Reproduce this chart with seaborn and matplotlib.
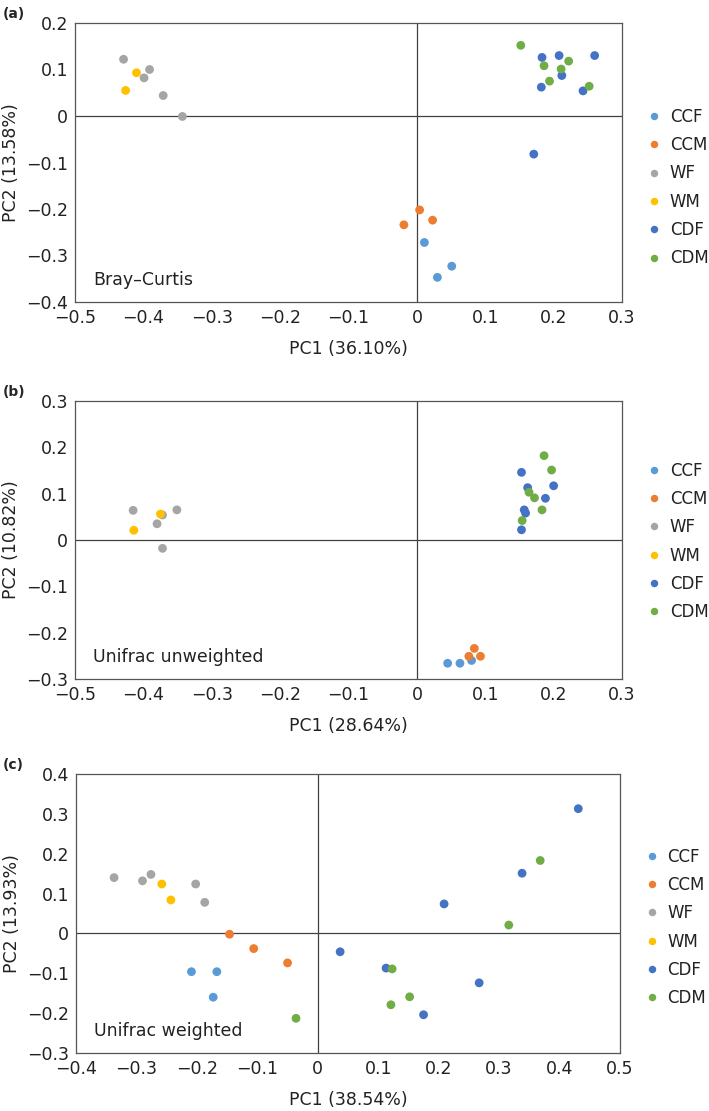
import matplotlib.pyplot as plt
import pandas as pd
import seaborn as sns
from matplotlib.ticker import FuncFormatter, MultipleLocator

# ---------------------------------------------------------------------------
# Data
# ---------------------------------------------------------------------------
GROUPS = ["CCF", "CCM", "WF", "WM", "CDF", "CDM"]
COLORS = ["#5B9BD5", "#ED7D31", "#A5A5A5", "#FFC000", "#4472C4", "#70AD47"]
GROUP_SIZES = [3, 3, 5, 2, 7, 6]

# (a) Bray-Curtis
bc_pc1 = [0.011, 0.051, 0.030,
          0.004, 0.023, -0.019,
          -0.429, -0.391, -0.399, -0.371, -0.343,
          -0.410, -0.426,
          0.183, 0.208, 0.260, 0.212, 0.182, 0.243, 0.171,
          0.152, 0.186, 0.222, 0.211, 0.194, 0.252]
bc_pc2 = [-0.272, -0.323, -0.347,
          -0.202, -0.224, -0.234,
          0.122, 0.100, 0.082, 0.044, -0.001,
          0.093, 0.055,
          0.126, 0.130, 0.130, 0.087, 0.062, 0.054, -0.082,
          0.152, 0.108, 0.118, 0.101, 0.075, 0.064]

# (b) Unifrac unweighted
uu_pc1 = [0.045, 0.063, 0.080,
          0.084, 0.076, 0.093,
          -0.415, -0.372, -0.351, -0.380, -0.372,
          -0.375, -0.414,
          0.153, 0.162, 0.200, 0.188, 0.157, 0.159, 0.153,
          0.186, 0.197, 0.164, 0.172, 0.183, 0.154]
uu_pc2 = [-0.266, -0.266, -0.260,
          -0.234, -0.251, -0.251,
          0.064, 0.054, 0.065, 0.035, -0.018,
          0.056, 0.021,
          0.146, 0.113, 0.117, 0.090, 0.065, 0.058, 0.022,
          0.182, 0.151, 0.103, 0.091, 0.065, 0.042]

# (c) Unifrac weighted
uw_pc1 = [-0.209, -0.167, -0.173,
          -0.146, -0.106, -0.050,
          -0.337, -0.290, -0.276, -0.202, -0.187,
          -0.258, -0.243,
          0.431, 0.338, 0.209, 0.037, 0.113, 0.267, 0.175,
          0.368, 0.316, 0.123, 0.152, 0.121, -0.036]
uw_pc2 = [-0.096, -0.096, -0.160,
          -0.002, -0.038, -0.074,
          0.140, 0.132, 0.148, 0.124, 0.078,
          0.124, 0.084,
          0.313, 0.151, 0.074, -0.046, -0.087, -0.124, -0.204,
          0.183, 0.021, -0.089, -0.159, -0.179, -0.213]

PANELS = [
    ("(a)", "Bray\u2013Curtis", bc_pc1, bc_pc2, "PC1 (36.10%)", "PC2 (13.58%)",
     (-0.5, 0.3), (-0.4, 0.2), 0.41),
    ("(b)", "Unifrac unweighted", uu_pc1, uu_pc2, "PC1 (28.64%)", "PC2 (10.82%)",
     (-0.5, 0.3), (-0.3, 0.3), 0.495),
    ("(c)", "Unifrac weighted", uw_pc1, uw_pc2, "PC1 (38.54%)", "PC2 (13.93%)",
     (-0.4, 0.5), (-0.3, 0.4), 0.45),
]

# axes boxes in pixels: left, top, right, bottom
BOXES = [(75, 23, 622, 302), (75, 401, 622, 679), (76, 774, 620, 1053)]
W, H = 709, 1111
FS = 12.5
LEG_FS = 12


def tick_fmt(v, _pos):
    if abs(v) < 1e-9:
        return "0"
    return f"{v:.1f}".replace("-", "\u2212")


def main() -> None:
    sns.set_theme(style="white")
    plt.rcParams["font.family"] = ["DejaVu Sans"]

    fig = plt.figure(figsize=(W / 100, H / 100), dpi=100)
    groups = [g for g, n in zip(GROUPS, GROUP_SIZES) for _ in range(n)]
    palette = dict(zip(GROUPS, COLORS))

    for (tag, name, pc1, pc2, xlab, ylab, xlim, ylim, leg_y), box in zip(PANELS, BOXES):
        left, top, right, bottom = box
        ax = fig.add_axes([left / W, 1 - bottom / H, (right - left) / W, (bottom - top) / H])

        df = pd.DataFrame({"PC1": pc1, "PC2": pc2, "group": groups})

        ax.axhline(0, color="#404040", lw=0.9, zorder=1)
        ax.axvline(0, color="#404040", lw=0.9, zorder=1)

        sns.scatterplot(
            data=df, x="PC1", y="PC2", hue="group", hue_order=GROUPS,
            palette=palette, s=40, linewidth=0, ax=ax, zorder=3,
        )

        ax.set_xlim(*xlim)
        ax.set_ylim(*ylim)
        ax.xaxis.set_major_locator(MultipleLocator(0.1))
        ax.yaxis.set_major_locator(MultipleLocator(0.1))
        ax.xaxis.set_major_formatter(FuncFormatter(tick_fmt))
        ax.yaxis.set_major_formatter(FuncFormatter(tick_fmt))
        ax.tick_params(length=0, labelsize=FS, colors="#222222")
        ax.tick_params(axis="x", pad=5)
        ax.tick_params(axis="y", pad=5)

        for sp in ax.spines.values():
            sp.set_color("#555555")
            sp.set_linewidth(0.9)

        ax.set_xlabel(xlab, fontsize=FS, color="#222222")
        ax.set_ylabel(ylab, fontsize=FS, color="#222222")
        ax.xaxis.set_label_coords(0.5, -0.168)
        ax.yaxis.set_label_coords(-0.117, 0.5)
        ax.xaxis.label.set_va("center")
        ax.yaxis.label.set_va("center")

        ax.text(0.033, 0.08, name, transform=ax.transAxes, fontsize=FS,
                va="center", ha="left", color="#222222")

        sns.move_legend(
            ax, "center left", bbox_to_anchor=(1.046, leg_y), frameon=False,
            title=None, fontsize=LEG_FS, handlelength=0.8, handletextpad=0.55,
            labelspacing=0.62, borderpad=0, borderaxespad=0, markerscale=0.85,
        )
        for txt in ax.get_legend().get_texts():
            txt.set_color("#222222")

        fig.text(3 / W, 1 - (top - 9) / H, tag, fontsize=10, fontweight="bold",
                 va="center", ha="left")

    fig.savefig("out.png", dpi=100)


if __name__ == "__main__":
    main()
